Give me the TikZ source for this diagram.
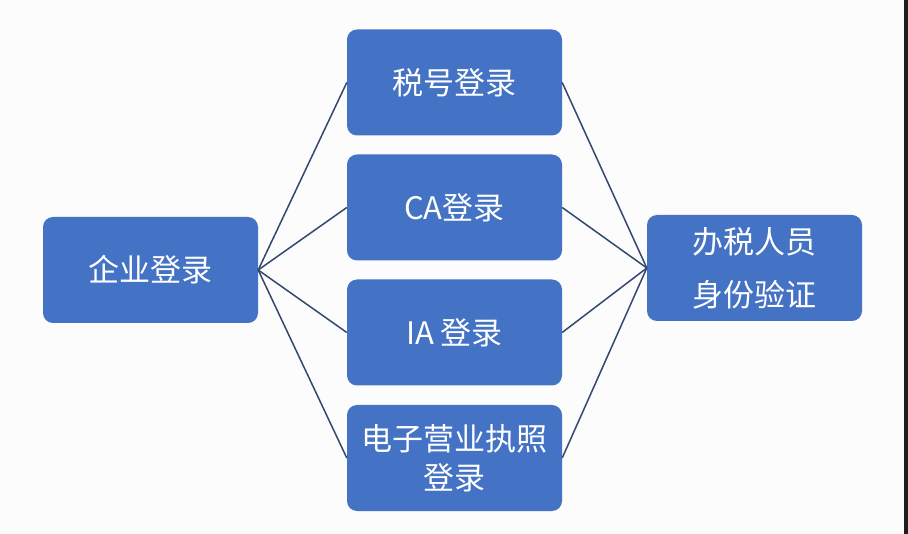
\documentclass[tikz,border=0pt]{standalone}
\usepackage{fontspec}
\setmainfont{Noto Sans CJK SC}
\usetikzlibrary{positioning}

\definecolor{boxblue}{HTML}{4472C4}
\definecolor{linkblue}{HTML}{33476F}
\definecolor{edgebar}{HTML}{1E1E1E}

\tikzset{
  loginbox/.style={rectangle,rounded corners=10pt,fill=boxblue,text=white,
    minimum width=215pt,minimum height=106pt,inner sep=0pt,align=center,
    font=\fontsize{31}{39}\selectfont},
  link/.style={draw=linkblue,line width=1.5pt}
}

\begin{document}
\begin{tikzpicture}[x=1pt,y=-1pt]

	\fill[white!99!black] (0,0) rectangle (908,534);
	\useasboundingbox (0,0) rectangle (908,534);
	\fill[edgebar] (904,0) rectangle (908,534);

	\node[loginbox] (ent) at (150.5,270) {企业登录};

	\node[loginbox] (tax) at (454.5,82.5) {税号登录};
	\node[loginbox] (ca) at (454.5,207.5) {CA登录};
	\node[loginbox] (ia) at (454.5,332.5) {IA 登录};
	\node[loginbox] (lic) at (454.5,458) {电子营业执照\\登录};

	\node[loginbox] (staff) at (754.5,268) {办税人员\\[14pt]身份验证};

	% links
	\foreach \m in {tax,ca,ia,lic}{
		\draw[link] (ent.east) -- (\m.west);
		\draw[link] (\m.east) -- (staff.west);
	}

\end{tikzpicture}
\end{document}
